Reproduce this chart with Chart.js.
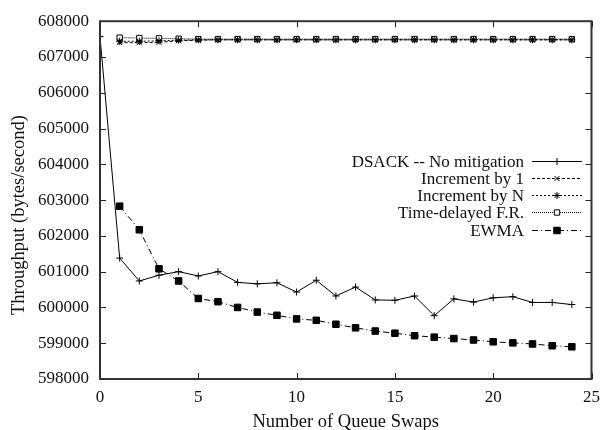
<!DOCTYPE html>
<html>
<head>
<meta charset="utf-8">
<script src="https://cdn.jsdelivr.net/npm/chart.js@4.4.0/dist/chart.umd.min.js"></script>
<style>
  html, body { margin: 0; padding: 0; background: #fff; }
</style>
</head>
<body>
<canvas id="chart" width="608" height="430"></canvas>
<script>
// Data
const swaps = [0, 1, 2, 3, 4, 5, 6, 7, 8, 9, 10, 11, 12, 13, 14, 15, 16, 17, 18, 19, 20, 21, 22, 23, 24];
const swapsFrom1 = [1, 2, 3, 4, 5, 6, 7, 8, 9, 10, 11, 12, 13, 14, 15, 16, 17, 18, 19, 20, 21, 22, 23, 24];

const dsack = [607570, 601380, 600740, 600900, 601000, 600880, 601000, 600700, 600660, 600690,
  600430, 600760, 600320, 600570, 600210, 600200, 600320, 599770, 600240, 600150,
  600270, 600300, 600140, 600140, 600080];
const incrementBy1 = [607400, 607400, 607410, 607450, 607470, 607480, 607480, 607480, 607480, 607480,
  607480, 607480, 607480, 607480, 607480, 607480, 607480, 607480, 607480, 607480,
  607480, 607480, 607480, 607480];
const incrementByN = [607440, 607440, 607450, 607470, 607480, 607480, 607480, 607480, 607480, 607480,
  607480, 607480, 607480, 607480, 607480, 607480, 607480, 607480, 607480, 607480,
  607480, 607480, 607480, 607480];
const timeDelayed = [607540, 607530, 607520, 607510, 607500, 607500, 607500, 607500, 607500, 607500,
  607500, 607500, 607500, 607500, 607500, 607500, 607500, 607500, 607500, 607500,
  607500, 607500, 607500, 607500];
const ewma = [602830, 602170, 601080, 600740, 600250, 600160, 600000, 599870, 599780,
  599680, 599640, 599530, 599430, 599340, 599280, 599210, 599170, 599130, 599090,
  599040, 599010, 598980, 598930, 598900];

const xTicks = [0, 5, 10, 15, 20, 25];
const yTicks = [598000, 599000, 600000, 601000, 602000, 603000, 604000, 605000, 606000, 607000, 608000];
const yTitle = "Throughput (bytes/second)";

const FONT = "'Liberation Serif', 'Times New Roman', serif";
const INK = "#111";

function pts(xs, ys) {
  return xs.map((x, i) => ({ x: x, y: ys[i] }));
}

// Frame with inward ticks on all four sides, gnuplot style
const frame = {
  id: "frame",
  afterDatasetsDraw(chart) {
    const { ctx, chartArea: a, scales } = chart;
    ctx.save();
    ctx.strokeStyle = "#222";
    ctx.lineWidth = 1;
    ctx.beginPath();
    yTicks.forEach((v) => {
      const py = Math.round(scales.y.getPixelForValue(v)) + 0.5;
      ctx.moveTo(a.left, py); ctx.lineTo(a.left + 6, py);
      ctx.moveTo(a.right, py); ctx.lineTo(a.right - 6, py);
    });
    xTicks.forEach((v) => {
      const px = Math.round(scales.x.getPixelForValue(v)) + 0.5;
      ctx.moveTo(px, a.bottom); ctx.lineTo(px, a.bottom - 6);
      ctx.moveTo(px, a.top); ctx.lineTo(px, a.top + 6);
    });
    ctx.stroke();
    ctx.lineWidth = 2;
    ctx.strokeStyle = "#333";
    ctx.strokeRect(a.left, a.top, a.right - a.left, a.bottom - a.top);
    ctx.restore();
  },
};

// y title sits a little below the middle of the axis in the original
const sideTitle = {
  id: "sideTitle",
  afterDraw(chart) {
    const { ctx } = chart;
    ctx.save();
    ctx.translate(19, 215);
    ctx.rotate(-Math.PI / 2);
    ctx.font = "18.5px " + FONT;
    ctx.fillStyle = INK;
    ctx.textAlign = "center";
    ctx.textBaseline = "middle";
    ctx.fillText(yTitle, 0, 0);
    ctx.restore();
  },
};

// Legend: right-aligned labels with the line sample on the right
const sideLegend = {
  id: "sideLegend",
  afterDraw(chart) {
    const { ctx } = chart;
    const textRight = 524, lineL = 532, lineR = 582, top = 160.5, step = 17.3;
    ctx.save();
    ctx.font = "17px " + FONT;
    ctx.textAlign = "right";
    ctx.textBaseline = "middle";
    chart.data.datasets.forEach((ds, i) => {
      const y = Math.round(top + i * step) + 0.5;
      ctx.fillStyle = INK;
      ctx.fillText(ds.label, textRight, y + 1);
      ctx.beginPath();
      ctx.setLineDash(ds.borderDash || []);
      ctx.strokeStyle = ds.borderColor;
      ctx.lineWidth = ds.borderWidth;
      ctx.moveTo(lineL, y);
      ctx.lineTo(lineR, y);
      ctx.stroke();
      ctx.setLineDash([]);
      ctx.fillStyle = ds.pointBackgroundColor;
      ctx.strokeStyle = ds.pointBorderColor;
      ctx.lineWidth = 1;
      Chart.helpers.drawPoint(ctx, { pointStyle: ds.pointStyle, radius: ds.pointRadius, borderWidth: 1 }, (lineL + lineR) / 2, y);
    });
    ctx.restore();
  },
};

new Chart(document.getElementById("chart"), {
  type: "line",
  data: {
    datasets: [
      {
        label: "DSACK -- No mitigation",
        data: pts(swaps, dsack),
        borderColor: "#000", borderWidth: 1, borderDash: [],
        pointStyle: "cross", pointRadius: 3.5,
        pointBorderColor: "#000", pointBackgroundColor: "#000", pointBorderWidth: 1,
      },
      {
        label: "Increment by 1",
        data: pts(swapsFrom1, incrementBy1),
        borderColor: "#000", borderWidth: 1, borderDash: [3, 2],
        pointStyle: "crossRot", pointRadius: 3.5,
        pointBorderColor: "#000", pointBackgroundColor: "#000", pointBorderWidth: 1,
      },
      {
        label: "Increment by N",
        data: pts(swapsFrom1, incrementByN),
        borderColor: "#000", borderWidth: 1, borderDash: [2, 2],
        pointStyle: "star", pointRadius: 3.5,
        pointBorderColor: "#000", pointBackgroundColor: "#000", pointBorderWidth: 1,
      },
      {
        label: "Time-delayed F.R.",
        data: pts(swapsFrom1, timeDelayed),
        borderColor: "#000", borderWidth: 1, borderDash: [1, 1],
        pointStyle: "rect", pointRadius: 3.8,
        pointBorderColor: "#000", pointBackgroundColor: "#fff", pointBorderWidth: 1,
      },
      {
        label: "EWMA",
        data: pts(swapsFrom1, ewma),
        borderColor: "#000", borderWidth: 1, borderDash: [6, 3, 1, 3],
        pointStyle: "rect", pointRadius: 4.6,
        pointBorderColor: "#000", pointBackgroundColor: "#000", pointBorderWidth: 1,
      },
    ],
  },
  options: {
    responsive: false,
    animation: false,
    layout: { padding: { left: 0, top: 14, right: 14, bottom: 0 } },
    plugins: { legend: { display: false }, tooltip: { enabled: false } },
    elements: { line: { tension: 0 } },
    scales: {
      x: {
        type: "linear",
        min: 0, max: 25,
        afterBuildTicks: (s) => { s.ticks = xTicks.map((v) => ({ value: v })); },
        afterFit: (s) => { s.height = 51; },
        grid: { display: false, drawTicks: false },
        border: { display: false },
        ticks: { padding: 8, color: INK, font: { family: FONT, size: 17 } },
        title: {
          display: true, text: "Number of Queue Swaps", color: INK,
          font: { family: FONT, size: 18.5, lineHeight: 0.8 }, padding: { top: 0, bottom: 0 },
        },
      },
      y: {
        min: 598000, max: 608000,
        afterBuildTicks: (s) => { s.ticks = yTicks.map((v) => ({ value: v })); },
        afterFit: (s) => { s.width = 100; },
        grid: { display: false, drawTicks: false },
        border: { display: false },
        ticks: { padding: 11, color: INK, font: { family: FONT, size: 17 }, callback: (v) => String(v) },
      },
    },
  },
  plugins: [frame, sideTitle, sideLegend],
});
</script>
</body>
</html>
